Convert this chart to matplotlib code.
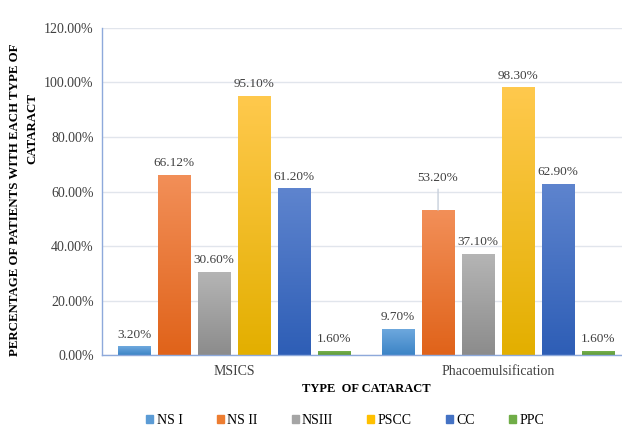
import numpy as np
import matplotlib
matplotlib.use("Agg")
import matplotlib.pyplot as plt
from matplotlib.colors import LinearSegmentedColormap
from matplotlib.patches import Patch

groups = ["MSICS", "Phacoemulsification"]
series = ["NS I", "NS II", "NSIII", "PSCC", "CC", "PPC"]
values = [
    [3.20, 9.70],
    [66.12, 53.20],
    [30.60, 37.10],
    [95.10, 98.30],
    [61.20, 62.90],
    [1.60, 1.60],
]
# (top colour, bottom colour) for the gradient fill of each series
colors = [
    ("#6FA9DE", "#3C84C6"),
    ("#F28F58", "#E0631A"),
    ("#B5B5B5", "#8C8C8C"),
    ("#FFC94D", "#E3AF00"),
    ("#5E84CE", "#2E5EB6"),
    ("#7BB653", "#5E9A38"),
]
legend_colors = ["#5B9BD5", "#ED7D31", "#A5A5A5", "#FFC000", "#4472C4", "#70AD47"]

plt.rcParams["font.family"] = ["Liberation Serif", "DejaVu Serif"]

fig = plt.figure(figsize=(6.22, 4.34), dpi=100)
ax = fig.add_axes([0.164, 0.182, 0.849, 0.7535])

x = np.arange(len(groups))
pitch = 40 / 264
width = 32 / 264

for i, (name, vals) in enumerate(zip(series, values)):
    pos = x + (i - 2.5) * pitch
    bars = ax.bar(pos, vals, width, color=legend_colors[i], edgecolor="white",
                  linewidth=0.6, zorder=2)
    cmap = LinearSegmentedColormap.from_list(name, [colors[i][1], colors[i][0]])
    grad = np.linspace(0, 1, 100).reshape(-1, 1)
    for b, v in zip(bars, vals):
        im = ax.imshow(grad, cmap=cmap, origin="lower", aspect="auto",
                       extent=(b.get_x(), b.get_x() + b.get_width(), 0, v), zorder=2.5)
        im.set_clip_path(b)
        if name == "NS II" and v == 53.20:
            # label moved up with a leader line, like in the source chart
            ax.annotate("%.2f%%" % v, (b.get_x() + b.get_width() / 2, v),
                        xytext=(0, 19), textcoords="offset points", ha="center",
                        va="bottom", fontsize=9.5, color="#404040",
                        arrowprops=dict(arrowstyle="-", color="#C8D0DC", lw=1,
                                        shrinkA=2, shrinkB=0))
        else:
            ax.annotate("%.2f%%" % v, (b.get_x() + b.get_width() / 2, v),
                        xytext=(0, 4), textcoords="offset points", ha="center",
                        va="bottom", fontsize=9.5, color="#404040")

ax.set_xlim(-0.5, 1.5)
ax.set_ylim(0, 120)
ax.set_yticks(np.arange(0, 121, 20))
ax.set_yticklabels(["%.2f%%" % t for t in np.arange(0, 121, 20)], fontsize=10,
                   color="#404040")
ax.set_xticks(x)
ax.set_xticklabels(groups, fontsize=10, color="#404040")
ax.tick_params(length=0, pad=6)
ax.tick_params(axis="x", pad=7)
ax.grid(axis="y", color="#E1E5EC", lw=1, zorder=0)
ax.set_axisbelow(True)
for s in ["top", "right"]:
    ax.spines[s].set_visible(False)
for s in ["left", "bottom"]:
    ax.spines[s].set_color("#8EA9DB")
    ax.spines[s].set_linewidth(1)

ax.set_xlabel("TYPE  OF CATARACT", fontsize=9, fontweight="bold", labelpad=4)

# y title in two lines placed as in the source
fig.text(15 / 622, 1 - 200 / 434, "PERCENTAGE OF PATIENTS WITH EACH TYPE OF",
         rotation=90, ha="center", va="center", fontsize=9.3, fontweight="bold")
fig.text(32 / 622, 1 - 129 / 434, "CATARACT",
         rotation=90, ha="center", va="center", fontsize=9.3, fontweight="bold")

handles = [Patch(color=c) for c in legend_colors]
fig.legend(handles, series, loc="lower center", bbox_to_anchor=(0.555, -0.012),
           ncol=6, frameon=False, fontsize=10, handlelength=0.5, handleheight=0.5,
           handletextpad=0.25, columnspacing=2.45)

fig.savefig("out.png", dpi=100)
